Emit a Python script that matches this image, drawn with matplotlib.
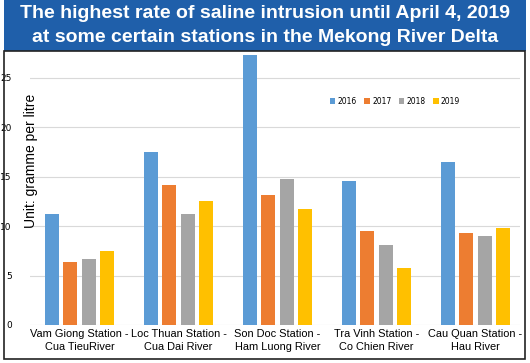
import numpy as np
from matplotlib import pyplot as plt
from matplotlib.patches import Rectangle

stations = ["Vam Giong Station -\nCua TieuRiver", "Loc Thuan Station -\nCua Dai River",
            "Son Doc Station -\nHam Luong River", "Tra Vinh Station -\nCo Chien River",
            "Cau Quan Station -\nHau River"]
years = ["2016", "2017", "2018", "2019"]
v2016 = [11.2, 17.5, 27.3, 14.6, 16.5]
v2017 = [6.4, 14.2, 13.1, 9.5, 9.3]
v2018 = [6.7, 11.2, 14.8, 8.1, 9.0]
v2019 = [7.5, 12.5, 11.7, 5.8, 9.8]
colors = ["#5B9BD5", "#ED7D31", "#A5A5A5", "#FFC000"]

W, H = 530, 363
fig = plt.figure(figsize=(W / 100, H / 100), dpi=100)

# title band and frame
fig.patches.append(Rectangle((4 / W, 1 - 51 / H), 522 / W, 51 / H, transform=fig.transFigure,
                             facecolor="#1F5FAA", edgecolor="none", zorder=0))
fig.patches.append(Rectangle((4 / W, 1 - 359 / H), 521 / W, 308 / H, transform=fig.transFigure,
                             facecolor="none", edgecolor="#222222", linewidth=1.2, zorder=0))
fig.text(0.5, 1 - 14 / H, "The highest rate of saline intrusion until April 4, 2019",
         ha="center", va="center", color="white", fontsize=14, fontweight="bold",
         family="Liberation Sans")
fig.text(0.5, 1 - 37 / H, "at some certain stations in the Mekong River Delta",
         ha="center", va="center", color="white", fontsize=14, fontweight="bold",
         family="Liberation Sans")

ax = fig.add_axes([30 / W, (H - 325) / H, 490 / W, 273 / H])
x = np.arange(len(stations))
pitch, width = 0.185, 0.14
for i, (vals, yr) in enumerate(zip([v2016, v2017, v2018, v2019], years)):
    ax.bar(x + (i - 1.5) * pitch, vals, width, color=colors[i], label=yr, zorder=3)

ax.set_xlim(-0.5, 4.45)
ax.set_ylim(0, 27.6)
ax.set_yticks([0, 5, 10, 15, 20, 25])
ax.yaxis.grid(True, color="#d9d9d9", linewidth=0.8, zorder=0)
for s in ax.spines.values():
    s.set_visible(False)
ax.tick_params(axis="y", length=0, pad=13, labelsize=6.5)
ax.tick_params(axis="x", length=0, pad=3)
ax.set_xticks(x)
ax.set_xticklabels(stations, fontsize=7.9, family="Liberation Sans", linespacing=1.4)
ax.set_ylabel("Unit: gramme per litre", fontsize=10, family="Liberation Sans")
ax.yaxis.set_label_coords(0.016, 0.6)

ax.legend(loc="center", bbox_to_anchor=(0.745, 0.82), ncol=4, frameon=False, fontsize=5.5,
          handlelength=0.7, handleheight=0.7, handletextpad=0.3, columnspacing=1.0)

fig.savefig("out.png", dpi=100)
